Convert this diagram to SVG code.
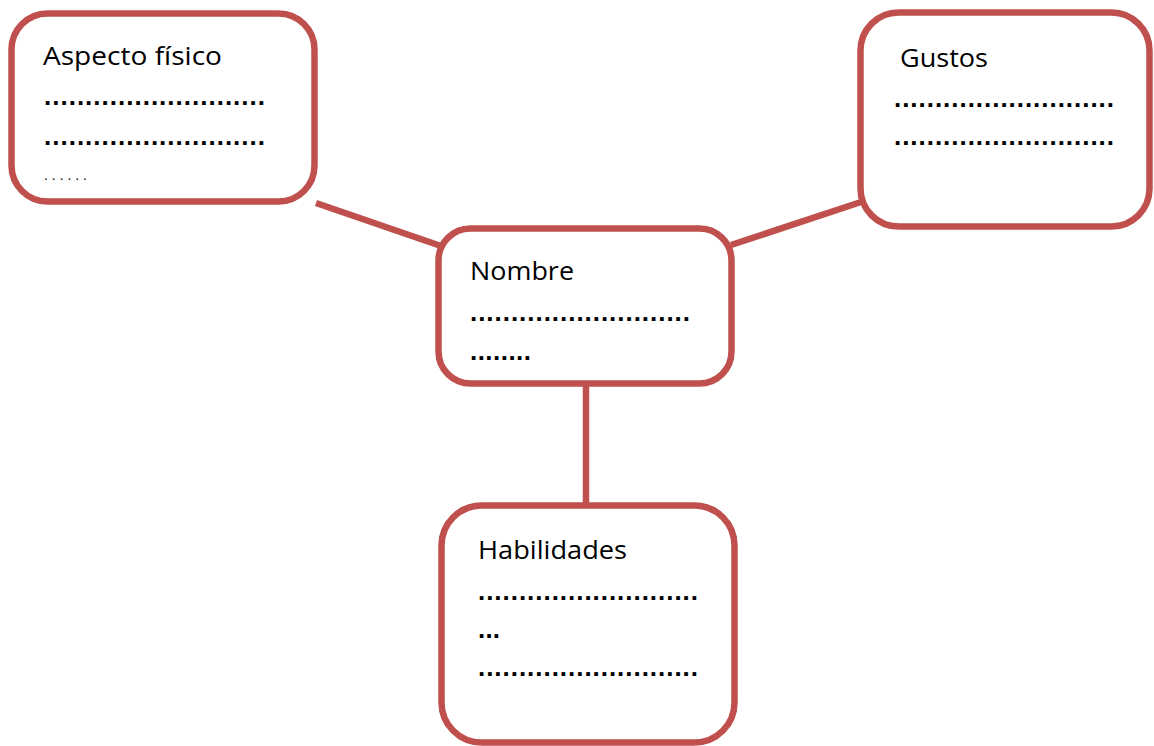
<svg xmlns="http://www.w3.org/2000/svg" width="1154" height="746" viewBox="0 0 1154 746">
<style>
.box{fill:#fff;stroke:#C0504D;stroke-width:6.5}
.conn{stroke:#C0504D;stroke-width:6.5;fill:none}
.t{font-family:"Open Sans","Liberation Sans",sans-serif;font-size:26px;fill:#000}
.d{font-family:"Liberation Sans",sans-serif;font-size:26px;fill:#000;font-weight:bold}
</style>
<rect width="1154" height="746" fill="#fff"/>
<g id="connectors">
<line class="conn" x1="316" y1="203" x2="441" y2="246"/>
<line class="conn" x1="731" y1="245" x2="861" y2="202"/>
<line class="conn" x1="586" y1="386" x2="586" y2="506"/>
</g>
<g id="aspecto">
<rect class="box" x="11.5" y="13.5" width="303" height="188" rx="36"/>
<text class="t" x="43" y="65" textLength="179" lengthAdjust="spacingAndGlyphs">Aspecto físico</text>
<text class="d" x="44" y="105" textLength="221" lengthAdjust="spacing">...........................</text>
<text class="d" x="44" y="145" textLength="221" lengthAdjust="spacing">...........................</text>
<text class="d" x="44" y="180" style="font-size:14px;font-weight:normal" textLength="43" lengthAdjust="spacing">......</text>
</g>
<g id="gustos">
<rect class="box" x="860.5" y="12.5" width="289" height="214" rx="38"/>
<text class="t" x="900" y="67" textLength="88" lengthAdjust="spacingAndGlyphs">Gustos</text>
<text class="d" x="894" y="107" textLength="220" lengthAdjust="spacing">...........................</text>
<text class="d" x="894" y="145" textLength="220" lengthAdjust="spacing">...........................</text>
</g>
<g id="nombre">
<rect class="box" x="438.5" y="228.5" width="293" height="155" rx="32"/>
<text class="t" x="470" y="280" textLength="104" lengthAdjust="spacingAndGlyphs">Nombre</text>
<text class="d" x="470" y="321" textLength="220" lengthAdjust="spacing">...........................</text>
<text class="d" x="470" y="360" textLength="61" lengthAdjust="spacing">........</text>
</g>
<g id="habilidades">
<rect class="box" x="441.5" y="505.5" width="293" height="237" rx="40"/>
<text class="t" x="478" y="559" textLength="149" lengthAdjust="spacingAndGlyphs">Habilidades</text>
<text class="d" x="478" y="600" textLength="220" lengthAdjust="spacing">...........................</text>
<text class="d" x="478" y="638" textLength="22" lengthAdjust="spacing">...</text>
<text class="d" x="478" y="676" textLength="220" lengthAdjust="spacing">...........................</text>
</g>
</svg>
